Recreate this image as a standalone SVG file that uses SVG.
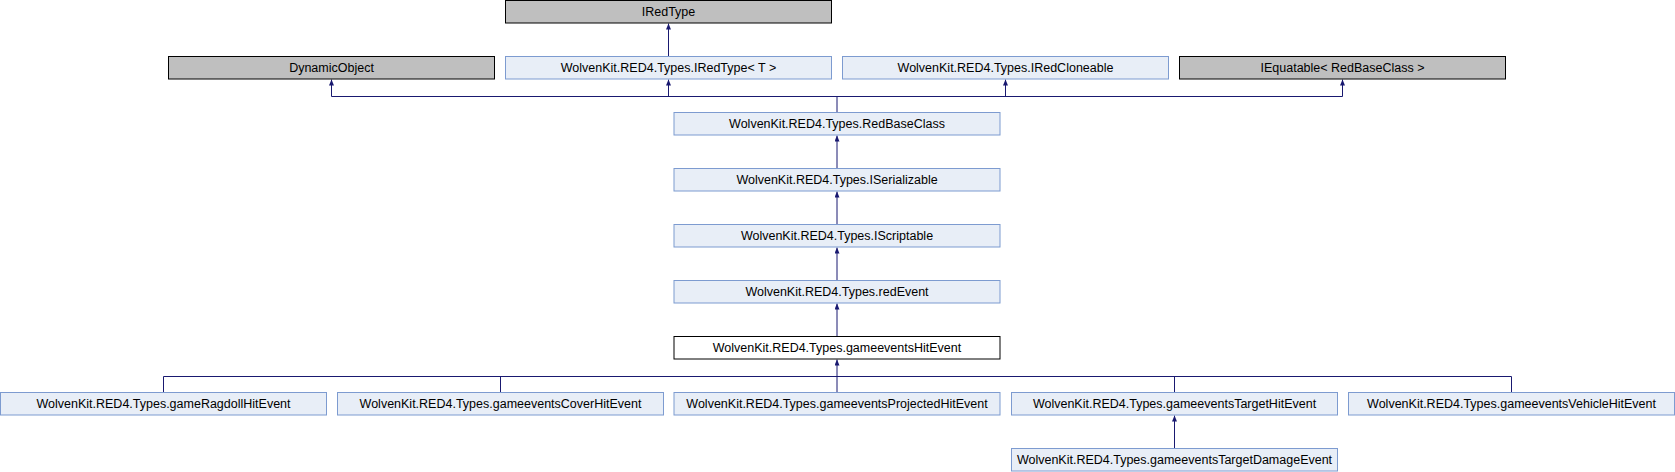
<svg xmlns="http://www.w3.org/2000/svg" width="1675" height="472" viewBox="0 0 1675 472">
<style>
.n{fill:#E8EEF7;stroke:#7D9BD0;stroke-width:1}
.g{fill:#BFBFBF;stroke:#000;stroke-width:1}
.c{fill:#fff;stroke:#000;stroke-width:1}
text{font-family:"Liberation Sans",Arial,sans-serif;font-size:12.5px;fill:#000;text-anchor:middle}
.e{stroke:#191970;stroke-width:1;fill:none}
</style>
<defs>
<marker id="a" markerUnits="userSpaceOnUse" viewBox="0 0 6 5" refX="6" refY="2.5" markerWidth="6" markerHeight="5" orient="auto">
<path d="M0,0 L6,2.5 L0,5 z" fill="#191970"/>
</marker>
</defs>
<rect width="1675" height="472" fill="#fff"/>
<g id="connectors">
<path class="e" d="M668.5,56.5 V23.5" marker-end="url(#a)"/>
<path class="e" d="M837,112.5 V96.5 M331.5,96.5 H1342.5"/>
<path class="e" d="M331.5,96.5 V79.5" marker-end="url(#a)"/>
<path class="e" d="M668.5,96.5 V79.5" marker-end="url(#a)"/>
<path class="e" d="M1005.5,96.5 V79.5" marker-end="url(#a)"/>
<path class="e" d="M1342.5,96.5 V79.5" marker-end="url(#a)"/>
<path class="e" d="M837,168.5 V135.5" marker-end="url(#a)"/>
<path class="e" d="M837,224.5 V191.5" marker-end="url(#a)"/>
<path class="e" d="M837,280.5 V247.5" marker-end="url(#a)"/>
<path class="e" d="M837,336.5 V303.5" marker-end="url(#a)"/>
<path class="e" d="M837,376.5 V359.5" marker-end="url(#a)"/>
<path class="e" d="M163.5,376.5 H1511.5 M163.5,376.5 V392.5 M500.5,376.5 V392.5 M837,376.5 V392.5 M1174.5,376.5 V392.5 M1511.5,376.5 V392.5"/>
<path class="e" d="M1174.5,448.5 V415.5" marker-end="url(#a)"/>
</g>
<g id="IRedType"><rect class="g" x="505.5" y="0.5" width="326" height="22.5"/><text x="668.5" y="16">IRedType</text></g>
<g id="DynamicObject"><rect class="g" x="168.5" y="56.5" width="326" height="22.5"/><text x="331.5" y="72">DynamicObject</text></g>
<g id="IRedTypeT"><rect class="n" x="505.5" y="56.5" width="326" height="22.5"/><text x="668.5" y="72">WolvenKit.RED4.Types.IRedType&lt; T &gt;</text></g>
<g id="IRedCloneable"><rect class="n" x="842.5" y="56.5" width="326" height="22.5"/><text x="1005.5" y="72">WolvenKit.RED4.Types.IRedCloneable</text></g>
<g id="IEquatable"><rect class="g" x="1179.5" y="56.5" width="326" height="22.5"/><text x="1342.5" y="72">IEquatable&lt; RedBaseClass &gt;</text></g>
<g id="RedBaseClass"><rect class="n" x="674" y="112.5" width="326" height="22.5"/><text x="837" y="128">WolvenKit.RED4.Types.RedBaseClass</text></g>
<g id="ISerializable"><rect class="n" x="674" y="168.5" width="326" height="22.5"/><text x="837" y="184">WolvenKit.RED4.Types.ISerializable</text></g>
<g id="IScriptable"><rect class="n" x="674" y="224.5" width="326" height="22.5"/><text x="837" y="240">WolvenKit.RED4.Types.IScriptable</text></g>
<g id="redEvent"><rect class="n" x="674" y="280.5" width="326" height="22.5"/><text x="837" y="296">WolvenKit.RED4.Types.redEvent</text></g>
<g id="gameeventsHitEvent"><rect class="c" x="674" y="336.5" width="326" height="22.5"/><text x="837" y="352">WolvenKit.RED4.Types.gameeventsHitEvent</text></g>
<g id="gameRagdollHitEvent"><rect class="n" x="0.5" y="392.5" width="326" height="22.5"/><text x="163.5" y="408">WolvenKit.RED4.Types.gameRagdollHitEvent</text></g>
<g id="gameeventsCoverHitEvent"><rect class="n" x="337.5" y="392.5" width="326" height="22.5"/><text x="500.5" y="408">WolvenKit.RED4.Types.gameeventsCoverHitEvent</text></g>
<g id="gameeventsProjectedHitEvent"><rect class="n" x="674" y="392.5" width="326" height="22.5"/><text x="837" y="408">WolvenKit.RED4.Types.gameeventsProjectedHitEvent</text></g>
<g id="gameeventsTargetHitEvent"><rect class="n" x="1011.5" y="392.5" width="326" height="22.5"/><text x="1174.5" y="408">WolvenKit.RED4.Types.gameeventsTargetHitEvent</text></g>
<g id="gameeventsVehicleHitEvent"><rect class="n" x="1348.5" y="392.5" width="326" height="22.5"/><text x="1511.5" y="408">WolvenKit.RED4.Types.gameeventsVehicleHitEvent</text></g>
<g id="gameeventsTargetDamageEvent"><rect class="n" x="1011.5" y="448.5" width="326" height="22.5"/><text x="1174.5" y="464">WolvenKit.RED4.Types.gameeventsTargetDamageEvent</text></g>
</svg>
